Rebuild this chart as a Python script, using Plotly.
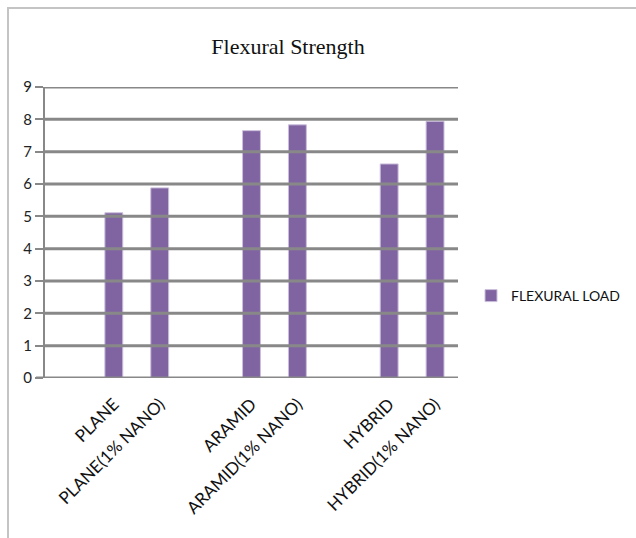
import plotly.graph_objects as go

categories = [" ", "PLANE", "PLANE(1% NANO)", "  ", "ARAMID", "ARAMID(1% NANO)", "   ", "HYBRID", "HYBRID(1% NANO)"]
flexural_load = [None, 5.11, 5.88, None, 7.65, 7.83, None, 6.62, 7.94]
y_ticks = [0, 1, 2, 3, 4, 5, 6, 7, 8, 9]

W, H = 636, 538
L, R, T, B = 45, 178, 87, 160
pw = W - L - R
ph = H - T - B

def px_to_paper_x(p):
    return (p - L) / pw

def px_to_paper_y(p):
    return (H - B - p) / ph

fig = go.Figure()
fig.add_trace(go.Bar(
    x=categories, y=flexural_load, name="FLEXURAL LOAD",
    width=0.39,
    marker=dict(color="#8064A2", line=dict(color="#cbbfdc", width=1)),
))

shapes = []
for v in y_ticks[1:]:
    shapes.append(dict(type="line", xref="paper", yref="y", x0=0, x1=1, y0=v, y1=v,
                       line=dict(color="#888888", width=3), layer="above"))
# bottom axis line
shapes.append(dict(type="line", xref="paper", yref="y", x0=px_to_paper_x(36), x1=1, y0=0, y1=0,
                   line=dict(color="#888888", width=3), layer="above"))
# outer frame
shapes.append(dict(type="rect", xref="paper", yref="paper",
                   x0=px_to_paper_x(8), x1=px_to_paper_x(660),
                   y0=px_to_paper_y(560), y1=px_to_paper_y(8),
                   line=dict(color="#c4c4c4", width=2), fillcolor="rgba(0,0,0,0)", layer="below"))

fig.update_layout(
    width=W, height=H,
    margin=dict(l=L, r=R, t=T, b=B, autoexpand=False),
    paper_bgcolor="white", plot_bgcolor="white",
    title=dict(text="Flexural Strength", x=288 / W, xref="container", xanchor="center",
               y=1 - 46 / H, yref="container", yanchor="middle",
               font=dict(family="Liberation Serif", size=22, color="#111")),
    showlegend=True,
    legend=dict(x=px_to_paper_x(471), xanchor="left", y=px_to_paper_y(296), yanchor="middle",
                font=dict(family="Lato", size=14, color="#111"), bgcolor="rgba(0,0,0,0)",
                itemwidth=30),
    bargap=0.6,
    shapes=shapes,
)
fig.update_xaxes(type="category", categoryorder="array", categoryarray=categories,
                 tickangle=-45, tickfont=dict(family="Lato", size=17, color="#111"),
                 ticklabelstandoff=12, automargin=False,
                 showgrid=False, showline=False, ticks="", zeroline=False)
fig.update_yaxes(range=[0, 9], tickvals=y_ticks, ticktext=[str(v) for v in y_ticks],
                 showgrid=False, zeroline=False, automargin=False,
                 showline=True, linecolor="#888888", linewidth=2,
                 ticks="outside", ticklen=8, tickwidth=2, tickcolor="#888888",
                 tickfont=dict(family="Lato", size=15, color="#222"),
                 layer="above traces")

fig.write_html("out.html")
